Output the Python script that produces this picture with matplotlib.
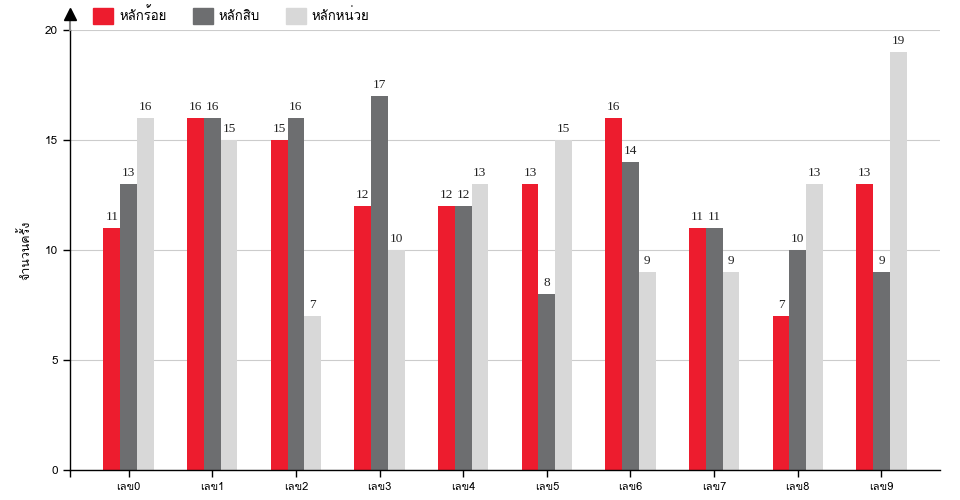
import matplotlib
matplotlib.use("Agg")
import matplotlib.pyplot as plt
from matplotlib import font_manager
from matplotlib.ft2font import FT2Font
from matplotlib.patches import Patch
import numpy as np

categories = ["เลข0", "เลข1", "เลข2", "เลข3", "เลข4", "เลข5", "เลข6", "เลข7", "เลข8", "เลข9"]
series_names = ["หลักร้อย", "หลักสิบ", "หลักหน่วย"]
hundreds = [11, 16, 15, 12, 12, 13, 16, 11, 7, 13]
tens = [13, 16, 16, 17, 12, 8, 14, 11, 10, 9]
units = [16, 15, 7, 10, 13, 15, 9, 9, 13, 19]
colors = ["#ED1C2E", "#6D6E70", "#D8D8D8"]
y_label = "จำนวนครั้ง"


# find an installed font that can draw Thai
def find_thai_font():
    seen = set()
    for f in font_manager.fontManager.ttflist:
        if f.name in seen:
            continue
        seen.add(f.name)
        try:
            if 0x0E2B in FT2Font(f.fname).get_charmap():
                return f.name
        except Exception:
            pass
    return None


thai = find_thai_font()
fam = [thai, "DejaVu Sans"] if thai else ["DejaVu Sans"]
plt.rcParams["font.family"] = fam

fig = plt.figure(figsize=(9.6, 5.0), dpi=100)
ax = fig.add_axes([70 / 960, 30 / 500, 870 / 960, 440 / 500])

x = np.arange(len(categories))
w = 0.2
for i, (vals, c) in enumerate(zip([hundreds, tens, units], colors)):
    bars = ax.bar(x + (i - 1) * w, vals, w, color=c, zorder=2)
    for b, v in zip(bars, vals):
        ax.text(b.get_x() + b.get_width() / 2, v + 0.25, str(v), ha="center", va="bottom",
                fontsize=9.5, family="Liberation Serif", color="#222222")

ax.set_xlim(-0.7, 9.7)
ax.set_ylim(0, 20)
ax.set_yticks([0, 5, 10, 15, 20])
ax.set_xticks(x)
ax.set_xticks([-0.7], minor=True)
ax.set_xticklabels(categories, fontsize=8)
ax.tick_params(axis="y", labelsize=8.5, length=5, width=1.0)
ax.tick_params(axis="x", which="both", length=5, width=1.0, color="black")
ax.yaxis.grid(True, color="#CCCCCC", linewidth=0.8, zorder=0)
ax.set_axisbelow(True)

for s in ["top", "right", "left"]:
    ax.spines[s].set_visible(False)
ax.spines["bottom"].set_linewidth(1.0)

# y axis line with arrow head
ax.plot([0, 0], [0, 1.0], transform=ax.transAxes, color="black", lw=1.0, clip_on=False)
ax.plot([0, 0], [1.0, 1.03], transform=ax.transAxes, color="#888888", lw=1.5, clip_on=False)
ax.plot([0], [1.036], marker="^", markersize=8, color="black", transform=ax.transAxes, clip_on=False)

fig.text(25 / 960, 0.5, y_label, rotation=90, ha="center", va="center", fontsize=9)

handles = [Patch(color=c) for c in colors]
fig.legend(handles, series_names, loc="upper left", bbox_to_anchor=(86 / 960, 1.0), ncol=3,
           frameon=False, fontsize=9.5, handlelength=1.5, handleheight=1.5, columnspacing=2.0,
           handletextpad=0.45, borderaxespad=0.15)

fig.savefig("out.png", dpi=100)
